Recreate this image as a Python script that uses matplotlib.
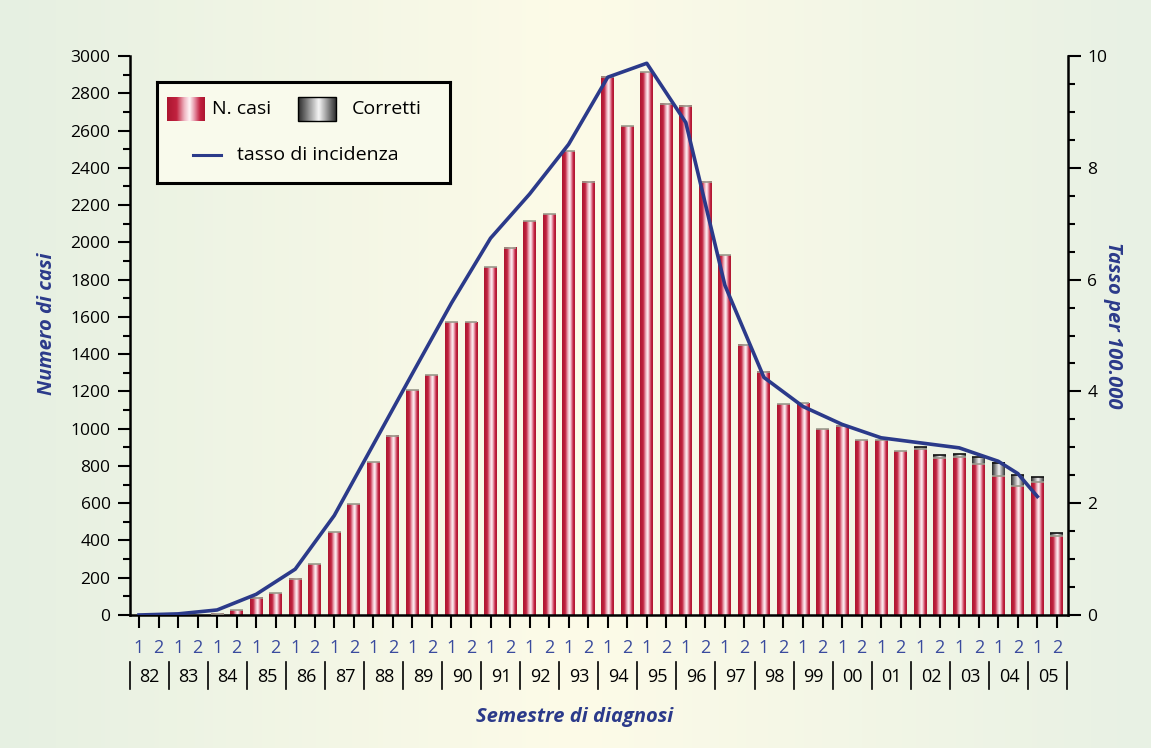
import numpy as np
import matplotlib.pyplot as plt
import matplotlib.transforms as mtransforms
from matplotlib.colors import LinearSegmentedColormap
from matplotlib.patches import Rectangle
from matplotlib.ticker import MultipleLocator

plt.rcParams['font.family'] = ['Open Sans', 'DejaVu Sans']

# Data
years = ['82', '83', '84', '85', '86', '87', '88', '89', '90', '91', '92', '93',
         '94', '95', '96', '97', '98', '99', '00', '01', '02', '03', '04', '05']
semesters = ['1', '2'] * len(years)

# cases per semester (red part of the bar)
n_casi = [0, 0, 0, 0, 8, 25, 92, 116, 195, 272, 445, 594,
          821, 962, 1205, 1287, 1570, 1570, 1866, 1970, 2113, 2152, 2490, 2324,
          2889, 2624, 2914, 2743, 2732, 2324, 1932, 1451, 1306, 1132, 1137, 997,
          1016, 939, 939, 878, 891, 844, 846, 810, 746, 692, 714, 426]
# correction for reporting delay (grey part on top)
corretti = [0] * 40 + [9, 13, 16, 36, 72, 59, 25, 12]

# incidence rate per 100.000 (annual, plotted at semester index)
tasso_idx = [0, 2, 4, 6, 8, 10, 12, 14, 16, 18, 20, 22, 24, 26, 28, 30, 32,
             34, 36, 38, 40, 42, 44, 45, 46]
tasso = [0.0, 0.02, 0.09, 0.37, 0.82, 1.78, 3.05, 4.32, 5.58, 6.74, 7.53, 8.42,
         9.62, 9.87, 8.81, 5.90, 4.25, 3.73, 3.41, 3.17, 3.08, 2.99, 2.75, 2.53, 2.12]

BLUE = '#2b3a8a'
LABEL_BLUE = '#3a4b9e'
W, H = 1151, 748
bar_w = 0.66

red_cmap = LinearSegmentedColormap.from_list(
    'cyl_red', [(0, '#ad1630'), (0.25, '#c1223f'), (0.45, '#eeb2bf'),
                (0.6, '#fff5f7'), (0.75, '#e28399'), (0.88, '#c01f3e'),
                (1, '#ad1630')])
grey_cmap = LinearSegmentedColormap.from_list(
    'cyl_grey', [(0, '#2a2a2a'), (0.55, '#f6f6f6'), (1, '#333333')])
bg_cmap = LinearSegmentedColormap.from_list(
    'bg', [(0, '#e6f0e2'), (0.5, '#fdfbe8'), (1, '#e8f1e4')])

fig = plt.figure(figsize=(W / 100, H / 100), dpi=100)

# background gradient
bg = fig.add_axes([0, 0, 1, 1], zorder=-10)
bg.imshow(np.linspace(0, 1, 256).reshape(1, -1), cmap=bg_cmap, aspect='auto',
          extent=[0, 1, 0, 1], interpolation='bilinear')
bg.axis('off')

ax = fig.add_axes([130 / W, (H - 615) / H, 938 / W, 559 / H])
ax.patch.set_alpha(0)

grad = np.linspace(0, 1, 64).reshape(1, -1)


def draw_bar(xc, y0, y1, cmap, edge):
    if y1 - y0 <= 0:
        return
    ax.imshow(grad, cmap=cmap, aspect='auto', interpolation='bilinear',
              extent=[xc - bar_w / 2, xc + bar_w / 2, y0, y1], zorder=2)
    ax.plot([xc - bar_w / 2, xc + bar_w / 2], [y1, y1], color=edge, lw=1.2,
            zorder=3, solid_capstyle='butt')


x = np.arange(len(n_casi))
for i in range(len(x)):
    draw_bar(x[i], 0, n_casi[i], red_cmap, '#9a9a8c')
    if corretti[i] > 0:
        draw_bar(x[i], n_casi[i], n_casi[i] + corretti[i], grey_cmap, '#111111')

ax.set_xlim(-0.46, 47.57)
ax.set_ylim(0, 3000)

ax.yaxis.set_major_locator(MultipleLocator(200))
ax.yaxis.set_minor_locator(MultipleLocator(100))
ax.set_xticks(x)
ax.set_xticklabels([])
ax.tick_params(axis='y', which='major', direction='out', length=9, width=1.5,
               labelsize=12.5, pad=5)
ax.tick_params(axis='y', which='minor', direction='out', length=5, width=1.5)
ax.tick_params(axis='x', direction='out', length=9, width=1.5)
for side in ['top', 'right']:
    ax.spines[side].set_visible(False)
for side in ['left', 'bottom']:
    ax.spines[side].set_linewidth(1.8)

# semester and year labels under the axis
trans = mtransforms.blended_transform_factory(ax.transData, ax.transAxes)
for i, s in enumerate(semesters):
    ax.text(x[i], -0.059, s, transform=trans, ha='center', va='center',
            fontsize=13, color=LABEL_BLUE)
for k, yr in enumerate(years):
    ax.text(2 * k + 0.55, -0.111, yr, transform=trans, ha='center', va='center',
            fontsize=13, color='black')
for k in range(len(years) + 1):
    ax.plot([2 * k - 0.48, 2 * k - 0.48], [-0.084, -0.132], transform=trans,
            color='black', lw=1.2, clip_on=False)

# incidence rate on the right axis
ax2 = ax.twinx()
ax2.plot(tasso_idx, tasso, color=BLUE, lw=2.6, zorder=5)
ax2.set_ylim(0, 10)
ax2.set_xlim(-0.46, 47.57)
ax2.yaxis.set_major_locator(MultipleLocator(2))
ax2.yaxis.set_minor_locator(MultipleLocator(0.5))
ax2.tick_params(axis='y', which='major', direction='out', length=9, width=1.5,
                labelsize=12.5, pad=5)
ax2.tick_params(axis='y', which='minor', direction='out', length=5, width=1.5)
for side in ['top', 'left', 'bottom']:
    ax2.spines[side].set_visible(False)
ax2.spines['right'].set_linewidth(1.8)

# axis titles
fig.text(47 / W, 1 - 324 / H, 'Numero di casi', rotation=90, ha='center',
         va='center', fontsize=14.5, color=BLUE, style='italic', weight='bold')
fig.text(1113 / W, 1 - 325 / H, 'Tasso per 100.000', rotation=-90, ha='center',
         va='center', fontsize=14.5, color=BLUE, style='italic', weight='bold')
fig.text(575 / W, 1 - 717 / H, 'Semestre di diagnosi', ha='center', va='center',
         fontsize=14.5, color=BLUE, style='italic', weight='bold')

# legend box drawn by hand (gradient swatches)
lg = fig.add_axes([157 / W, 1 - 183 / H, 293 / W, 101 / H], zorder=10)
lg.set_xticks([])
lg.set_yticks([])
lg.set_facecolor('#f9faec')
for sp in lg.spines.values():
    sp.set_linewidth(2.2)
lg.imshow(grad, cmap=red_cmap, aspect='auto', interpolation='bilinear',
          extent=[10, 48, 39, 15])
lg.imshow(grad, cmap=grey_cmap, aspect='auto', interpolation='bilinear',
          extent=[141, 179, 39, 15])
lg.add_patch(Rectangle((141, 15), 38, 24, fill=False, ec='black', lw=1))
lg.set_xlim(0, 293)
lg.set_ylim(101, 0)
lg.text(55, 27, 'N. casi', ha='left', va='center', fontsize=14)
lg.text(195, 27, 'Corretti', ha='left', va='center', fontsize=14)
lg.plot([36, 64], [73, 73], color=BLUE, lw=2.2)
lg.text(80, 73, 'tasso di incidenza', ha='left', va='center', fontsize=14)

fig.savefig('out.png', dpi=100)
